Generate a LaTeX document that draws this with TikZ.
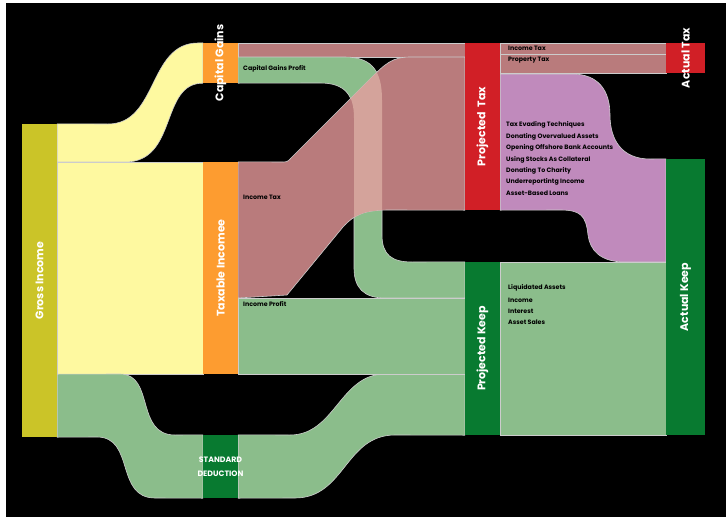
\documentclass[tikz,border=0pt]{standalone}
\usepackage{fontspec}
\setmainfont{Poppins}
\usetikzlibrary{backgrounds}
\definecolor{grossc}{RGB}{203,196,40}
\definecolor{taxablec}{RGB}{253,156,48}
\definecolor{keepc}{RGB}{8,122,48}
\definecolor{taxc}{RGB}{209,31,38}
\definecolor{yellowflow}{RGB}{254,249,160}
\definecolor{pinkflow}{RGB}{185,123,124}
\definecolor{overlapflow}{RGB}{212,163,155}
\definecolor{greenflow}{RGB}{139,189,139}
\definecolor{purpleflow}{RGB}{192,138,188}
\tikzset{
  bar/.style={inner sep=0pt,minimum width=35pt},
  barlabel/.style={rotate=90,text=white,inner sep=0pt,font=\fontsize{11}{13}\selectfont\bfseries},
  flowlabel/.style={anchor=west,inner sep=0pt,font=\fontsize{6.3}{7.5}\selectfont\bfseries},
  band/.style={draw=white!80!black,line width=0.6pt},
}
\begin{document}
\begin{tikzpicture}[x=1pt,y=-1pt]
\path[use as bounding box] (0,0) rectangle (726,517);
\node[bar,fill=grossc,minimum height=313pt] (gross) at (39.5,280.5) {};
\node[bar,fill=taxablec,minimum height=40pt] (cg) at (220.5,63) {};
\node[bar,fill=taxablec,minimum height=212pt] (taxable) at (220.5,268) {};
\node[bar,fill=keepc,minimum height=63pt] (stded) at (220.5,466.5) {};
\node[bar,fill=taxc,minimum height=167pt] (ptax) at (482.5,126.5) {};
\node[bar,fill=keepc,minimum height=173pt] (pkeep) at (482.5,348.5) {};
\node[bar,fill=taxc,minimum width=39pt,minimum height=30pt] (atax) at (685.5,58) {};
\node[bar,fill=keepc,minimum width=39pt,minimum height=276pt] (akeep) at (685.5,297) {};
\node[barlabel] (grosslbl) at (gross) {Gross Income};
\node[barlabel] (cglbl) at (cg) {Capital Gains};
\node[barlabel] (taxablelbl) at (taxable) {Taxable Incomee};
\node[barlabel] (ptaxlbl) at (ptax) {Projected\ \ Tax};
\node[barlabel] (pkeeplbl) at (pkeep) {Projected Keep};
\node[barlabel] (ataxlbl) at (atax) {Actual Tax};
\node[barlabel] (akeeplbl) at (akeep) {Actual Keep};
\node[text=white,align=center,inner sep=0pt,font=\fontsize{7.8}{14}\selectfont\bfseries] (stdedlbl) at (stded) {STANDARD\\DEDUCTION};
\begin{scope}[on background layer]
\fill[black] (6,3) rectangle (726,517);
\draw[band,fill=yellowflow] (gross.north east) -- (108,124) .. controls (158,124) and (148,43) .. (198,43) -- (cg.north west) -- (cg.south west) .. controls (160,83) and (178,162) .. (125,162) -- (gross.east |- taxable.north) -- cycle;
\draw[band,fill=yellowflow] (gross.east |- taxable.north) rectangle (taxable.south west);
\draw[band,fill=greenflow] (gross.east |- taxable.south) -- (120,374) .. controls (155,374) and (135,435) .. (175,435) -- (stded.north west) -- (stded.south west) -- (155,498) .. controls (115,498) and (135,437) .. (97,437) -- (gross.south east) -- cycle;
\draw[band,fill=greenflow] (stded.north east) -- (290,435) .. controls (335,435) and (340,374) .. (385,374) -- (pkeep.west |- taxable.south) -- (pkeep.south west) -- (395,435) .. controls (345,435) and (345,498) .. (295,498) -- (stded.south east) -- cycle;
\draw[band,fill=pinkflow] (cg.north east) rectangle (ptax.west |- 0,57);
\draw[band,fill=greenflow] (238,57) -- (345,57) .. controls (375,57) and (382,75) .. (382,100) -- (382,235) .. controls (382,255) and (392,262) .. (412,262) -- (pkeep.north west) -- (465,298) -- (385,298) .. controls (364,298) and (354,288) .. (354,268) -- (354,118) .. controls (354,95) and (345,83) .. (320,83) -- (cg.south east) -- cycle;
\draw[band,fill=pinkflow] (taxable.north east) -- (284,162) .. controls (288,162) and (289,160) .. (292,157) -- (370,79) .. controls (385,64) and (392,57) .. (410,57) -- (ptax.west |- 0,57) -- (ptax.south west) -- (390,210) .. controls (365,210) and (355,214) .. (343,227) -- (287,295) -- (238,298) -- cycle;
\begin{scope}
\clip (238,162) -- (284,162) .. controls (288,162) and (289,160) .. (292,157) -- (370,79) .. controls (385,64) and (392,57) .. (410,57) -- (465,57) -- (465,210) -- (390,210) .. controls (365,210) and (355,214) .. (343,227) -- (287,295) -- (238,298) -- cycle;
\fill[overlapflow] (238,57) -- (345,57) .. controls (375,57) and (382,75) .. (382,100) -- (382,235) .. controls (382,255) and (392,262) .. (412,262) -- (465,262) -- (465,298) -- (385,298) .. controls (364,298) and (354,288) .. (354,268) -- (354,118) .. controls (354,95) and (345,83) .. (320,83) -- (238,83) -- cycle;
\end{scope}
\draw[band,fill=greenflow] (238,298) rectangle (pkeep.west |- taxable.south);
\draw[band,fill=pinkflow] (ptax.north east) rectangle (atax.west |- 0,54);
\draw[band,fill=pinkflow] (ptax.east |- 0,54) rectangle (atax.south west);
\draw[band,fill=purpleflow] (ptax.east |- 0,74) -- (572,74) .. controls (598,74) and (610,90) .. (610,115) .. controls (610,140) and (622,159) .. (650,159) -- (akeep.north west) -- (akeep.west |- pkeep.north) -- (625,262) .. controls (600,262) and (590,250) .. (588,235) .. controls (586,215) and (580,210) .. (560,210) -- (ptax.south east) -- cycle;
\draw[band,fill=greenflow] (pkeep.north east) rectangle (akeep.south west);
\end{scope}
\node[flowlabel] (cgprofitlbl) at (243,69) {Capital Gains Profit};
\node[flowlabel] (inctaxlbl) at (243,197) {Income Tax};
\node[flowlabel] (incprofitlbl) at (243,304) {Income Profit};
\node[flowlabel] (atincomelbl) at (508,48) {Income Tax};
\node[flowlabel] (atpropertylbl) at (508,60) {Property Tax};
\node[flowlabel] (evadelbl) at (506,125) {Tax Evading Techniques};
\node[flowlabel] (donatevallbl) at (506,136.5) {Donating Overvalued Assets};
\node[flowlabel] (offshorelbl) at (506,148) {Opening Offshore Bank Accounts};
\node[flowlabel] (stockslbl) at (506,159.5) {Using Stocks As Collateral};
\node[flowlabel] (charitylbl) at (506,171) {Donating To Charity};
\node[flowlabel] (underlbl) at (506,182) {Underreportintg Income};
\node[flowlabel] (loanslbl) at (506,193) {Asset-Based Loans};
\node[flowlabel] (liquidlbl) at (508,288) {Liquidated Assets};
\node[flowlabel] (incomelbl) at (508,300) {Income};
\node[flowlabel] (interestlbl) at (508,311) {Interest};
\node[flowlabel] (saleslbl) at (508,322) {Asset Sales};
\end{tikzpicture}
\end{document}
